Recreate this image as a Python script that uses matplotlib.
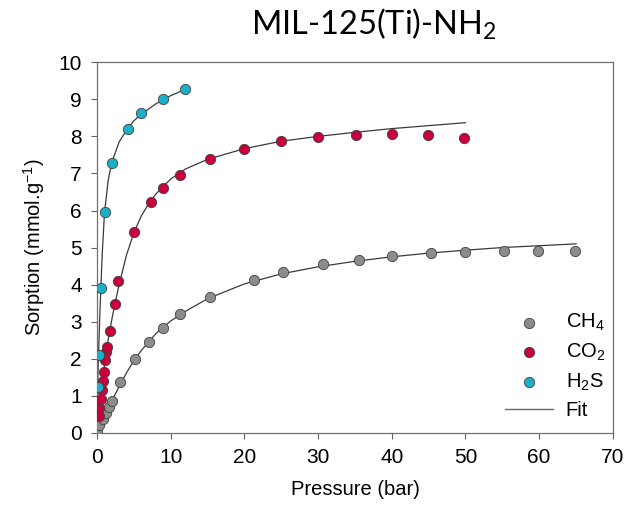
import matplotlib
matplotlib.use("Agg")
import matplotlib.pyplot as plt

plt.rcParams['font.family'] = ['Liberation Sans', 'DejaVu Sans']
plt.rcParams['mathtext.fontset'] = 'custom'
plt.rcParams['mathtext.rm'] = 'Liberation Sans'
plt.rcParams['mathtext.it'] = 'Liberation Sans:italic'
plt.rcParams['mathtext.default'] = 'regular'

# ---- measured points ----
ch4_p = [0.0, 0.3, 0.75, 1.2, 1.65, 2.0, 3.15, 5.1, 7.0, 9.0, 11.3, 15.3,
         21.3, 25.2, 30.6, 35.5, 40.0, 45.3, 50.0, 55.2, 59.8, 64.8]
ch4_q = [0.04, 0.22, 0.37, 0.53, 0.71, 0.87, 1.36, 2.0, 2.44, 2.83, 3.2, 3.67,
         4.12, 4.33, 4.55, 4.67, 4.76, 4.84, 4.89, 4.9, 4.92, 4.92]

co2_p = [0.2, 0.3, 0.5, 0.7, 0.77, 0.9, 1.1, 1.2, 1.3, 1.76, 2.4, 2.9, 4.96,
         7.35, 8.9, 11.3, 15.3, 20.0, 25.0, 30.0, 35.2, 40.0, 44.9, 49.8]
co2_q = [0.46, 0.67, 0.91, 1.16, 1.4, 1.64, 1.97, 2.17, 2.31, 2.76, 3.47, 4.1,
         5.43, 6.23, 6.6, 6.97, 7.38, 7.67, 7.87, 7.99, 8.05, 8.06, 8.03, 7.97]

h2s_p = [0.09, 0.3, 0.54, 1.08, 2.07, 4.15, 6.0, 9.0, 12.0]
h2s_q = [1.23, 2.1, 3.9, 5.96, 7.29, 8.19, 8.62, 9.0, 9.28]

# ---- fit curves ----
ch4_fit_p = [0, 1, 2, 3, 4, 5, 6, 8, 10, 12, 15, 20, 25, 30, 35, 40, 45, 50, 55, 60, 65]
ch4_fit_q = [0, 0.44, 0.86, 1.25, 1.62, 1.95, 2.22, 2.68, 3.02, 3.28, 3.62, 4.02,
             4.29, 4.48, 4.63, 4.75, 4.85, 4.93, 5.0, 5.05, 5.1]

co2_fit_p = [0, 0.25, 0.5, 1, 1.5, 2, 2.5, 3, 4, 5, 6, 7, 8, 10, 12, 15, 20, 25,
             30, 35, 40, 45, 50]
co2_fit_q = [0, 0.5, 0.95, 1.8, 2.5, 3.05, 3.55, 4.0, 4.8, 5.4, 5.85, 6.18, 6.45,
             6.85, 7.12, 7.38, 7.67, 7.87, 8.0, 8.11, 8.21, 8.29, 8.37]

h2s_fit_p = [0, 0.05, 0.1, 0.2, 0.3, 0.4, 0.5, 0.7, 1.0, 1.5, 2, 3, 4, 5, 6, 8, 10, 12]
h2s_fit_q = [0, 0.9, 1.4, 2.1, 2.7, 3.3, 3.8, 4.8, 5.9, 6.8, 7.3, 7.85, 8.17, 8.42,
             8.6, 8.88, 9.1, 9.27]

GRAY = '#8c8c8c'
RED = '#c8003c'
CYAN = '#1cb0c8'
EDGE = '#404040'
FIT = '#3a3a3a'

fig = plt.figure(figsize=(6.26, 5.19), dpi=100)
ax = fig.add_axes([0.155, 0.166, 0.824, 0.714])

for p, q in [(ch4_fit_p, ch4_fit_q), (co2_fit_p, co2_fit_q), (h2s_fit_p, h2s_fit_q)]:
    ax.plot(p, q, color=FIT, lw=0.9, zorder=2)

ax.scatter(ch4_p, ch4_q, s=55, c=GRAY, edgecolors=EDGE, linewidths=0.6, zorder=3, label='CH$_4$')
ax.scatter(co2_p, co2_q, s=55, c=RED, edgecolors=EDGE, linewidths=0.6, zorder=3, label='CO$_2$')
ax.scatter(h2s_p, h2s_q, s=55, c=CYAN, edgecolors=EDGE, linewidths=0.6, zorder=3, label='H$_2$S')
ax.plot([], [], color='#6a6a6a', lw=1.0, label='Fit')

ax.set_xlim(0, 70)
ax.set_ylim(0, 10)
ax.set_xticks(range(0, 71, 10))
ax.set_yticks(range(0, 11))
ax.tick_params(direction='out', length=4, width=0.8, color='#606060',
               labelsize=15, pad=7, top=False, right=False)
for s in ax.spines.values():
    s.set_color('#707070')
    s.set_linewidth(0.9)

ax.set_xlabel('Pressure (bar)', fontsize=14.5, labelpad=9)
ax.set_ylabel('Sorption (mmol.g$^{-1}$)', fontsize=14.5, labelpad=8)

ax.legend(loc='lower right', bbox_to_anchor=(1.02, -0.015), frameon=False,
          fontsize=14.5, handlelength=2.4, handletextpad=0.6, labelspacing=0.42,
          markerscale=1.0)

fig.text(0.598, 0.952, 'MIL-125(Ti)-NH$_2$', ha='center', va='center',
         fontsize=23.5, family=['Lato', 'DejaVu Sans'])

fig.savefig('out.png', dpi=100, facecolor='white')
